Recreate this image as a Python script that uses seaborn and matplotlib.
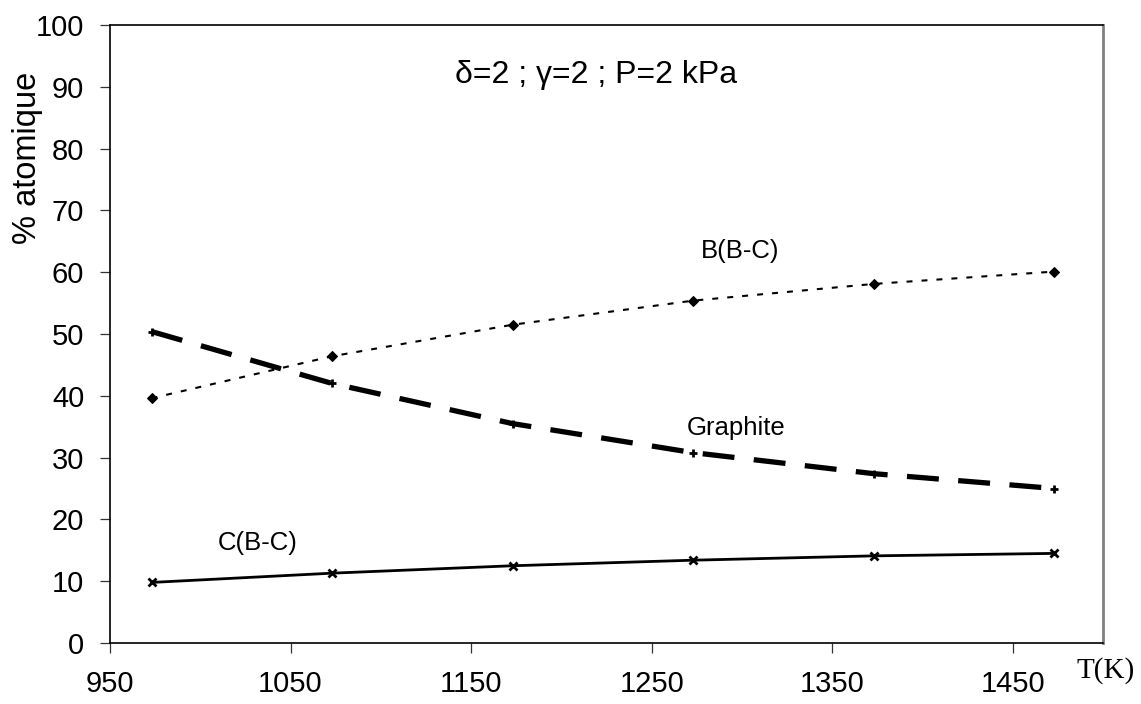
import matplotlib
matplotlib.use("Agg")
import matplotlib.pyplot as plt
import seaborn as sns
import numpy as np
import pandas as pd

# ---- data ----
temperature_K = [973, 1073, 1173, 1273, 1373, 1473]
b_bc = [39.6, 46.4, 51.5, 55.4, 58.1, 60.1]
graphite = [50.4, 42.0, 35.5, 30.8, 27.4, 25.0]
c_bc = [9.8, 11.3, 12.5, 13.4, 14.1, 14.5]
x_ticks = [950, 1050, 1150, 1250, 1350, 1450]
y_ticks = [0, 10, 20, 30, 40, 50, 60, 70, 80, 90, 100]

sns.set_theme(style="white")
plt.rcParams['font.family'] = ['Liberation Sans', 'DejaVu Sans']
plt.rcParams['lines.scale_dashes'] = False
for k in ['text.color', 'axes.labelcolor', 'xtick.color', 'ytick.color']:
    plt.rcParams[k] = 'black'

fig = plt.figure(figsize=(11.41, 7.04), dpi=100)
ax = fig.add_axes([110/1141, 1-643/704, (1103-110)/1141, (643-25)/704])

df = pd.DataFrame({"T": temperature_K, "B": b_bc, "G": graphite, "C": c_bc})

sns.lineplot(data=df, x="T", y="B", ax=ax, color="black", linewidth=1.5,
             linestyle=(0, (4.3, 6.5)), marker="D", markersize=5.5,
             markeredgecolor="black", markerfacecolor="black")
sns.lineplot(data=df, x="T", y="G", ax=ax, color="black", linewidth=3.8,
             linestyle=(0, (23, 14)), marker="+", markersize=6,
             markeredgewidth=2, markeredgecolor="black")
sns.lineplot(data=df, x="T", y="C", ax=ax, color="black", linewidth=2.0,
             marker="x", markersize=6, markeredgewidth=2,
             markeredgecolor="black")

ax.set_xlim(950, 1500)
ax.set_ylim(0, 100)
ax.set_xticks(x_ticks)
ax.set_yticks(y_ticks)
ax.set_xlabel("")
ax.set_ylabel("")
ax.tick_params(axis="both", which="major", direction="out", length=7.5,
               width=0.9, color="#333333", labelsize=21, left=True,
               bottom=True)
ax.tick_params(axis="x", pad=12)
ax.tick_params(axis="y", pad=11)

for s in ["left", "bottom", "top"]:
    ax.spines[s].set_color("black")
    ax.spines[s].set_linewidth(1.2)
ax.spines["right"].set_color("#808080")
ax.spines["right"].set_linewidth(2.0)
ax.grid(False)

ax.text(1219, 91.9, "δ=2 ; γ=2 ; P=2 kPa", fontsize=23, ha="center",
        va="center")
ax.text(1299, 63.4, "B(B-C)", fontsize=18.5, ha="center", va="center")
ax.text(1297, 34.8, "Graphite", fontsize=18.5, ha="center", va="center")
ax.text(1032, 16.2, "C(B-C)", fontsize=18.5, ha="center", va="center")

fig.text(27.5/1141, 1-157.5/704, "% atomique", fontsize=23.5, rotation=90,
         ha="center", va="center")
fig.text(1106/1141, 1-671/704, "T(K)", fontsize=21, ha="center",
         va="center", family=["Liberation Serif", "DejaVu Serif"])

fig.savefig("out.png", dpi=100, facecolor="white")
